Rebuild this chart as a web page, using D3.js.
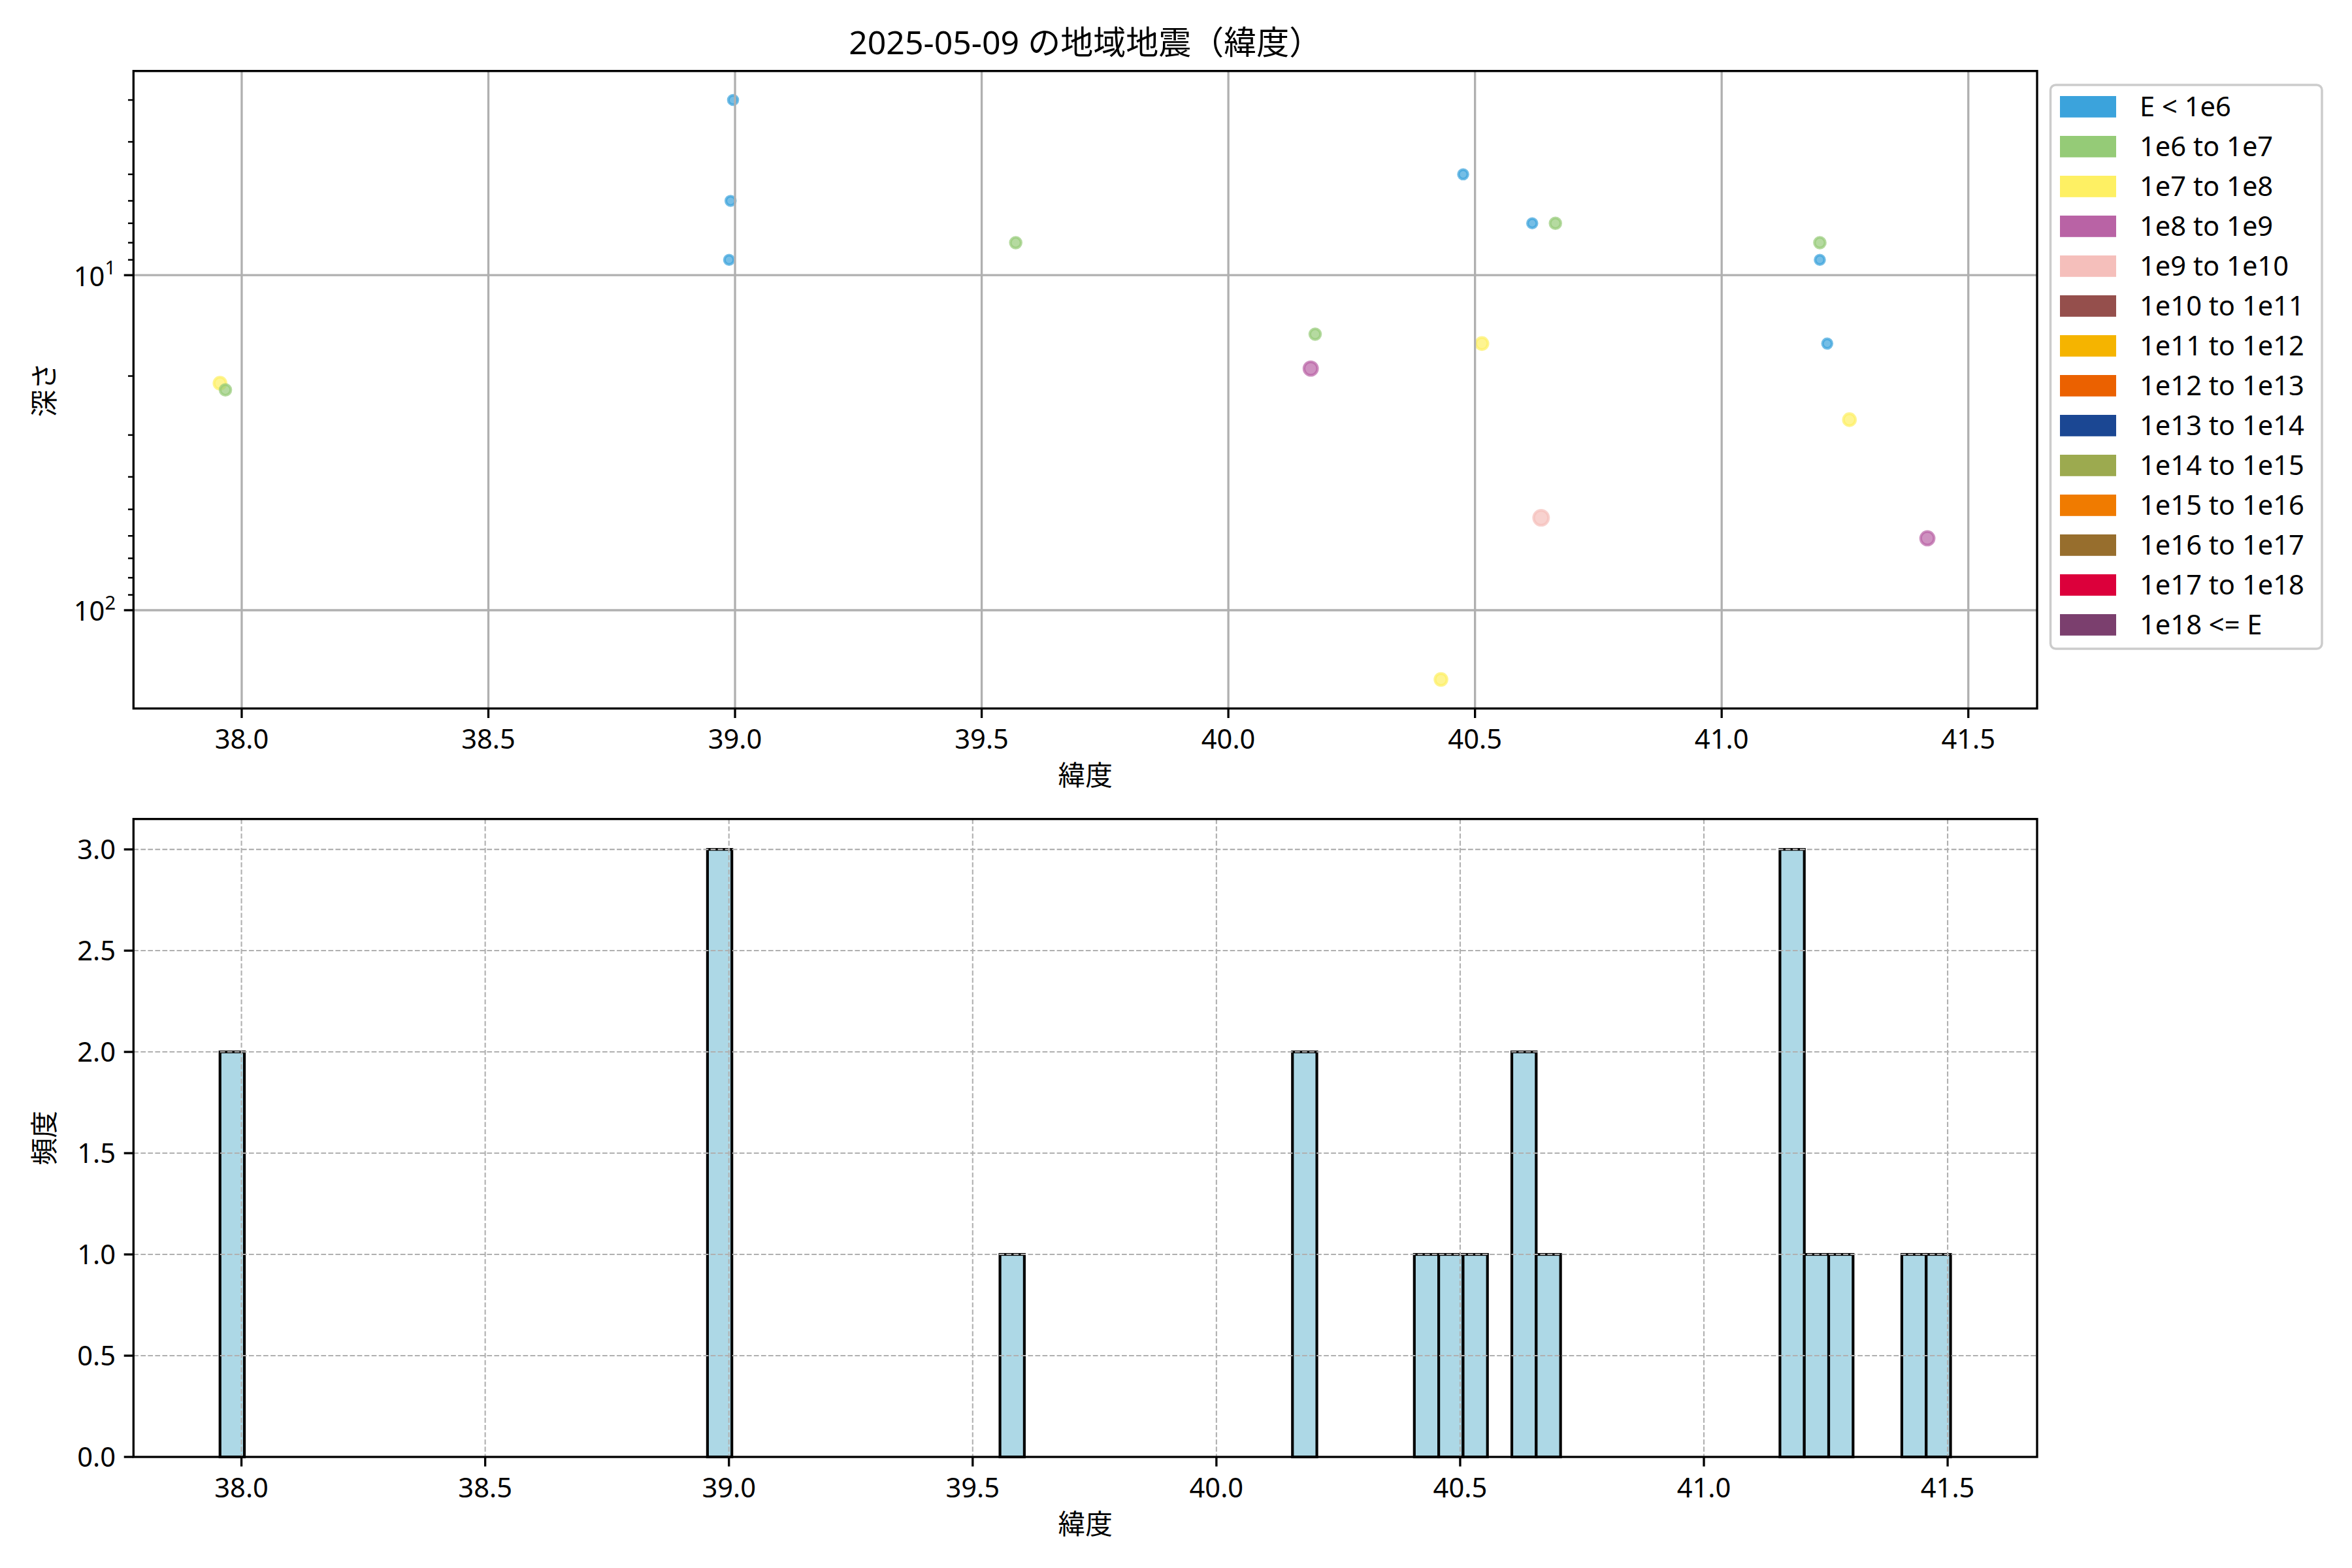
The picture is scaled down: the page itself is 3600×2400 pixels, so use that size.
<!DOCTYPE html>
<html><head><meta charset="utf-8">
<script src="https://cdn.jsdelivr.net/npm/d3@7"></script>
<style>
body{margin:0;background:#fff;}
text{font-family:"Noto Sans","Noto Sans CJK JP",sans-serif;fill:#000;}
</style>
</head><body>
<svg id="chart" width="3600" height="2400" xmlns="http://www.w3.org/2000/svg"></svg>
<script>
// ---------------- data ----------------
const chartTitle = "2025-05-09 の地域地震（緯度）";
const xLabel = "緯度";
const yLabelTop = "深さ";
const yLabelBottom = "頻度";

const latitudes   = [37.956, 37.967, 38.996, 38.991, 38.988, 39.569, 40.476, 40.616, 40.663, 41.199, 41.199, 40.176, 40.514, 41.214, 40.167, 41.259, 40.634, 41.417, 40.431, 41.180, 41.464];
const depths      = [21,     22,     3,      6,      9,      8,      5,      7,      7,      8,      9,      15,     16,     16,     19,     27,     53,     61,     161,    0,      0];
const energyClass = [2,      1,      0,      0,      0,      1,      0,      0,      1,      1,      0,      1,      2,      0,      3,      2,      4,      3,      2,      0,      0];

const energyLabels = ["E < 1e6","1e6 to 1e7","1e7 to 1e8","1e8 to 1e9","1e9 to 1e10","1e10 to 1e11","1e11 to 1e12","1e12 to 1e13","1e13 to 1e14","1e14 to 1e15","1e15 to 1e16","1e16 to 1e17","1e17 to 1e18","1e18 <= E"];
const energyColors = ["#3ba3dc","#95cb77","#fef063","#b963a5","#f5bfbb","#954f4c","#f5b400","#eb6100","#1b4793","#9caa4f","#f07b00","#976e2d","#dc003b","#7b3f6e"];

const latTicks = [38.0, 38.5, 39.0, 39.5, 40.0, 40.5, 41.0, 41.5];
const depthMajorTicks = [10, 100];
const freqTicks = [0.0, 0.5, 1.0, 1.5, 2.0, 2.5, 3.0];
const histBinWidth = 0.05;

// ---------------- layout / style ----------------
const PT = 300/72;
const FS = 10*PT;           // tick / label font
const TFS = 12*PT;          // title font
const topBox = {l:204.3, r:3118, t:108.7, b:1084.4};
const botBox = {l:204.3, r:3118, t:1253.6, b:2230};
const markerR = [7.2, 8.2, 9.2, 10.3, 11.4, 11.4, 11.4, 11.4, 11.4, 11.4, 11.4, 11.4, 11.4, 11.4];

const svg = d3.select("#chart");
svg.append("rect").attr("width",3600).attr("height",2400).attr("fill","#fff");

// ---------------- top: scatter ----------------
const [latMin, latMax] = d3.extent(latitudes);
const latSpan = latMax - latMin;
const xTop = d3.scaleLinear()
  .domain([latMin - 0.05*latSpan, latMax + 0.05*latSpan])
  .range([topBox.l, topBox.r]);

const logs = depths.filter(d => d > 0).map(Math.log10);
const lMin = d3.min(logs), lMax = d3.max(logs), lPad = 0.05*(lMax - lMin);
const yTop = d3.scaleLog()
  .domain([Math.pow(10, lMin - lPad), Math.pow(10, lMax + lPad)])
  .range([topBox.t, topBox.b]);

const gTop = svg.append("g");
const pts = latitudes.map((lat, i) => ({lat, depth: depths[i], cls: energyClass[i]})).filter(d => d.depth > 0);
gTop.selectAll("circle.pt").data(pts).join("circle")
  .attr("cx", d => xTop(d.lat))
  .attr("cy", d => yTop(d.depth))
  .attr("r", d => markerR[d.cls])
  .attr("fill", d => energyColors[d.cls]).attr("fill-opacity", 0.7)
  .attr("stroke", d => energyColors[d.cls]).attr("stroke-opacity", 0.7)
  .attr("stroke-width", 1*PT);

// grid (solid)
const [dLo, dHi] = yTop.domain();
gTop.selectAll("line.gx").data(latTicks.filter(v => v >= xTop.domain()[0] && v <= xTop.domain()[1])).join("line")
  .attr("x1", d => xTop(d)).attr("x2", d => xTop(d))
  .attr("y1", topBox.t).attr("y2", topBox.b)
  .attr("stroke", "#b0b0b0").attr("stroke-width", 0.8*PT);
gTop.selectAll("line.gy").data(depthMajorTicks.filter(v => v >= dLo && v <= dHi)).join("line")
  .attr("x1", topBox.l).attr("x2", topBox.r)
  .attr("y1", d => yTop(d)).attr("y2", d => yTop(d))
  .attr("stroke", "#b0b0b0").attr("stroke-width", 0.8*PT);

function drawFrame(g, box) {
  g.append("rect").attr("x", box.l).attr("y", box.t)
    .attr("width", box.r - box.l).attr("height", box.b - box.t)
    .attr("fill", "none").attr("stroke", "#000").attr("stroke-width", 0.8*PT);
}
drawFrame(gTop, topBox);

// x ticks
const tickLen = 3.5*PT, minorLen = 2*PT;
function xTicks(g, scale, box) {
  latTicks.forEach(v => {
    const x = scale(v);
    g.append("line").attr("x1", x).attr("x2", x).attr("y1", box.b).attr("y2", box.b + tickLen)
      .attr("stroke", "#000").attr("stroke-width", 0.8*PT);
    g.append("text").attr("x", x).attr("y", box.b + 62).attr("text-anchor", "middle")
      .attr("font-size", FS).text(d3.format(".1f")(v));
  });
}
xTicks(gTop, xTop, topBox);

// y ticks top (log)
depthMajorTicks.filter(v => v >= dLo && v <= dHi).forEach(v => {
  const y = yTop(v);
  gTop.append("line").attr("x1", topBox.l - tickLen).attr("x2", topBox.l).attr("y1", y).attr("y2", y)
    .attr("stroke", "#000").attr("stroke-width", 0.8*PT);
  const t = gTop.append("text").attr("x", topBox.l - 2*tickLen + 2).attr("y", y + 16.5)
    .attr("text-anchor", "end").attr("font-size", FS);
  t.append("tspan").text("10");
  t.append("tspan").attr("font-size", FS*0.7).attr("dy", -FS*0.42).text(String(Math.round(Math.log10(v))));
});
const minorVals = [];
for (let k = 0; k <= 3; k++) for (let m = 2; m <= 9; m++) {
  const v = m*Math.pow(10, k);
  if (v >= dLo && v <= dHi) minorVals.push(v);
}
minorVals.forEach(v => {
  const y = yTop(v);
  gTop.append("line").attr("x1", topBox.l - minorLen).attr("x2", topBox.l).attr("y1", y).attr("y2", y)
    .attr("stroke", "#000").attr("stroke-width", 0.6*PT);
});

// labels top
svg.append("text").attr("x", (topBox.l + topBox.r)/2).attr("y", 83)
  .attr("text-anchor", "middle").attr("font-size", TFS).text(chartTitle);
svg.append("text").attr("x", (topBox.l + topBox.r)/2).attr("y", 1202)
  .attr("text-anchor", "middle").attr("font-size", FS).text(xLabel);
svg.append("text").attr("transform", `translate(66,${(topBox.t + topBox.b)/2}) rotate(-90)`)
  .attr("text-anchor", "middle").attr("dominant-baseline", "central").attr("font-size", FS).text(yLabelTop);

// legend
const lg = svg.append("g");
lg.append("rect").attr("x", 3138.5).attr("y", 130).attr("width", 415.5).attr("height", 863)
  .attr("rx", 8).attr("fill", "#fff").attr("fill-opacity", 0.8)
  .attr("stroke", "#cccccc").attr("stroke-width", 3.5);
energyLabels.forEach((lab, i) => {
  const cy = 163.4 + i*61;
  lg.append("rect").attr("x", 3153).attr("y", cy - 16.4).attr("width", 86).attr("height", 32.8)
    .attr("fill", energyColors[i]);
  lg.append("text").attr("x", 3275).attr("y", cy + 15).attr("font-size", FS).text(lab);
});

// ---------------- bottom: histogram ----------------
const nBins = Math.ceil((latMax - latMin)/histBinWidth - 1e-9);
const edges = d3.range(nBins + 1).map(i => latMin + i*histBinWidth);
const bins = d3.bin().domain([edges[0], edges[nBins]]).thresholds(edges.slice(1, -1))(latitudes);
const eSpan = edges[nBins] - edges[0];
const xBot = d3.scaleLinear()
  .domain([edges[0] - 0.05*eSpan, edges[nBins] + 0.05*eSpan])
  .range([botBox.l, botBox.r]);
const maxCount = d3.max(bins, b => b.length);
const yBot = d3.scaleLinear().domain([0, maxCount*1.05]).range([botBox.b, botBox.t]);

const gBot = svg.append("g");
gBot.selectAll("rect.bar").data(bins.filter(b => b.length > 0)).join("rect")
  .attr("x", b => xBot(b.x0)).attr("width", b => xBot(b.x1) - xBot(b.x0))
  .attr("y", b => yBot(b.length)).attr("height", b => yBot(0) - yBot(b.length))
  .attr("fill", "#add8e6").attr("stroke", "#000").attr("stroke-width", 1*PT);

// dashed grid
gBot.selectAll("line.gx").data(latTicks).join("line")
  .attr("x1", d => xBot(d)).attr("x2", d => xBot(d))
  .attr("y1", botBox.t).attr("y2", botBox.b)
  .attr("stroke", "#b0b0b0").attr("stroke-width", 0.5*PT).attr("stroke-dasharray", `${3.7*0.5*PT} ${1.6*0.5*PT}`);
gBot.selectAll("line.gy").data(freqTicks).join("line")
  .attr("x1", botBox.l).attr("x2", botBox.r)
  .attr("y1", d => yBot(d)).attr("y2", d => yBot(d))
  .attr("stroke", "#b0b0b0").attr("stroke-width", 0.5*PT).attr("stroke-dasharray", `${3.7*0.5*PT} ${1.6*0.5*PT}`);

drawFrame(gBot, botBox);
xTicks(gBot, xBot, botBox);
freqTicks.forEach(v => {
  const y = yBot(v);
  gBot.append("line").attr("x1", botBox.l - tickLen).attr("x2", botBox.l).attr("y1", y).attr("y2", y)
    .attr("stroke", "#000").attr("stroke-width", 0.8*PT);
  gBot.append("text").attr("x", botBox.l - 2*tickLen + 2).attr("y", y + 15)
    .attr("text-anchor", "end").attr("font-size", FS).text(d3.format(".1f")(v));
});
svg.append("text").attr("x", (botBox.l + botBox.r)/2).attr("y", 2348)
  .attr("text-anchor", "middle").attr("font-size", FS).text(xLabel);
svg.append("text").attr("transform", `translate(66,${(botBox.t + botBox.b)/2}) rotate(-90)`)
  .attr("text-anchor", "middle").attr("dominant-baseline", "central").attr("font-size", FS).text(yLabelBottom);
</script>
</body></html>
